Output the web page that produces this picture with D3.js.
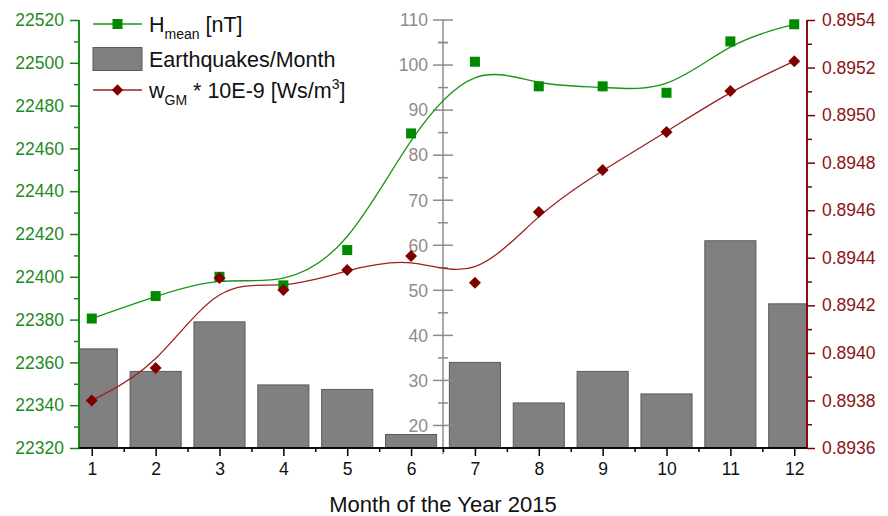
<!DOCTYPE html>
<html><head><meta charset="utf-8">
<script src="https://cdn.jsdelivr.net/npm/d3@7"></script>
<style>
html,body{margin:0;padding:0;background:#fff;}
svg text{font-family:"Liberation Sans",Arial,sans-serif;}
</style></head>
<body>
<svg id="chart" width="888" height="516"></svg>
<script>
const months = [1,2,3,4,5,6,7,8,9,10,11,12];
const quakes = [37,32,43,29,28,18,34,25,32,27,61,47];
const hMean = [22380.5,22391,22400,22396,22412.5,22467,22500.5,22489,22489,22486,22510,22518];
const wGM = [0.89380,0.893936,0.894315,0.894264,0.894349,0.894407,0.894295,0.894592,0.894769,0.894929,0.895101,0.895227];
const leftTicks = d3.range(22320, 22521, 20);
const rightTicks = d3.range(0, 10).map(i => 0.8936 + i*0.0002);
const midTicks = d3.range(20, 111, 10);

const GREEN = "#0f870f", GREEN_TXT = "#1f8a1f", RED = "#800000", RED_TXT = "#8b1414", GRAY = "#8c8c8c";
const L = 79, R = 807, T = 20, B = 448, MIDX = 443;
const FS = "17.5px";

const svg = d3.select("#chart");
const x = d3.scaleLinear().domain([0.8, 12.2]).range([L, R]);
const yL = d3.scaleLinear().domain([22320, 22520]).range([B, T]);
const yR = d3.scaleLinear().domain([0.8936, 0.8954]).range([B, T]);
const yM = d3.scaleLinear().domain([15, 110]).range([B, T]);

svg.append("defs").append("clipPath").attr("id","clip")
  .append("rect").attr("x", L).attr("y", 0).attr("width", R-L).attr("height", B);

// bars
const bw = x(0.8) - x(0);
svg.append("g").attr("clip-path","url(#clip)").selectAll("rect").data(months).join("rect")
  .attr("x", (d) => x(d) - bw/2).attr("width", bw)
  .attr("y", (d,i) => yM(quakes[i])).attr("height", (d,i) => B - yM(quakes[i]))
  .attr("fill", "#808080").attr("stroke", "#5a5a5a").attr("stroke-width", 1);

// middle axis
const gm = svg.append("g").attr("transform", `translate(${MIDX},0)`);
gm.append("line").attr("y1", T).attr("y2", B+6).attr("stroke", GRAY).attr("stroke-width", 1.5);
gm.selectAll(".maj").data(midTicks).join("line")
  .attr("x1", -10).attr("x2", 10).attr("y1", d => yM(d)).attr("y2", d => yM(d))
  .attr("stroke", GRAY).attr("stroke-width", 1.5);
gm.selectAll(".min").data(midTicks.map(d => d - 5).concat([105]).filter(d => d > 15)).join("line")
  .attr("x1", -5).attr("x2", 5).attr("y1", d => yM(d)).attr("y2", d => yM(d))
  .attr("stroke", GRAY).attr("stroke-width", 1.5);
gm.selectAll("text").data(midTicks).join("text")
  .attr("x", -15).attr("y", d => yM(d)).attr("dy", "0.36em").attr("text-anchor", "end")
  .attr("fill", GRAY).style("font-size", FS).text(d => d);

// left axis
const gl = svg.append("g").attr("transform", `translate(${L},0)`)
  .call(d3.axisLeft(yL).tickValues(leftTicks).tickSize(9).tickPadding(6).tickFormat(d3.format("d")));
gl.append("g").call(d3.axisLeft(yL).tickValues(leftTicks.slice(0,-1).map(d => d+10)).tickSize(5).tickFormat(""));
gl.selectAll("path,line").attr("stroke", GREEN).attr("stroke-width", 1.5);
gl.selectAll("path").attr("d", `M0,${T}V${B}`);
gl.selectAll("text").attr("fill", GREEN_TXT).style("font-size", FS).style("font-family", "Liberation Sans, Arial, sans-serif");

// right axis
const gr = svg.append("g").attr("transform", `translate(${R},0)`)
  .call(d3.axisRight(yR).tickValues(rightTicks).tickSize(8).tickPadding(7).tickFormat(d3.format(".4f")));
gr.append("g").call(d3.axisRight(yR).tickValues(rightTicks.slice(0,-1).map(d => d+0.0001)).tickSize(5).tickFormat(""));
gr.selectAll("path,line").attr("stroke", RED).attr("stroke-width", 1.5);
gr.selectAll("path").attr("d", `M0,${T}V${B}`);
gr.selectAll("text").attr("fill", RED_TXT).style("font-size", FS).style("font-family", "Liberation Sans, Arial, sans-serif");

// bottom axis
const gb = svg.append("g").attr("transform", `translate(0,${B})`)
  .call(d3.axisBottom(x).tickValues(months).tickSize(8).tickPadding(7).tickFormat(d3.format("d")));
gb.append("g").call(d3.axisBottom(x).tickValues(d3.range(1.5, 12, 1)).tickSize(4).tickFormat(""));
gb.selectAll("path,line").attr("stroke", "#000").attr("stroke-width", 1.5);
gb.selectAll("path").attr("d", `M${L},0H${R}`);
gb.selectAll("text").attr("fill", "#111").style("font-size", FS).style("font-family", "Liberation Sans, Arial, sans-serif");

svg.append("text").attr("x", (L+R)/2 + 0).attr("y", 512).attr("text-anchor", "middle")
  .style("font-size", "22px").attr("fill", "#111").text("Month of the Year 2015");

// curves
const lineH = d3.line().x((d,i) => x(months[i])).y(d => yL(d)).curve(d3.curveBasis);
const lineW = d3.line().x((d,i) => x(months[i])).y(d => yR(d)).curve(d3.curveBasis);
svg.append("path").attr("d", lineH(hMean)).attr("fill", "none").attr("stroke", "#1a961a").attr("stroke-width", 1.3);
svg.append("path").attr("d", lineW(wGM)).attr("fill", "none").attr("stroke", "#9b2020").attr("stroke-width", 1.3);

// markers
const sq = 10;
svg.append("g").selectAll("rect").data(hMean).join("rect")
  .attr("x", (d,i) => x(months[i]) - sq/2).attr("y", d => yL(d) - sq/2)
  .attr("width", sq).attr("height", sq).attr("fill", "#008a00");
svg.append("g").selectAll("path").data(wGM).join("path")
  .attr("transform", (d,i) => `translate(${x(months[i])},${yR(d)}) rotate(45)`)
  .attr("d", d3.symbol().type(d3.symbolSquare).size(72)).attr("fill", "#800000");

// legend
const lg = svg.append("g");
const lx1 = 93, lx2 = 142, lmx = 117.5, tx = 149;
const LFS = "21.5px";
lg.append("line").attr("x1", lx1).attr("x2", lx2).attr("y1", 24).attr("y2", 24).attr("stroke", "#1a961a").attr("stroke-width", 1.3);
lg.append("rect").attr("x", lmx - 5).attr("y", 19).attr("width", 10).attr("height", 10).attr("fill", "#008a00");
lg.append("rect").attr("x", lx1).attr("y", 47.5).attr("width", lx2 - lx1).attr("height", 23).attr("fill", "#808080").attr("stroke", "#5a5a5a");
lg.append("line").attr("x1", lx1).attr("x2", lx2).attr("y1", 90).attr("y2", 90).attr("stroke", "#9b2020").attr("stroke-width", 1.3);
lg.append("path").attr("transform", `translate(${lmx},90) rotate(45)`).attr("d", d3.symbol().type(d3.symbolSquare).size(64)).attr("fill", "#800000");

const t1 = lg.append("text").attr("x", tx).attr("y", 32).style("font-size", LFS).attr("fill", "#111");
t1.append("tspan").text("H");
t1.append("tspan").attr("dy", 7).style("font-size", "14px").text("mean");
t1.append("tspan").attr("dy", -7).text(" [nT]");
lg.append("text").attr("x", tx).attr("y", 67).style("font-size", LFS).attr("fill", "#111").text("Earthquakes/Month");
const t3 = lg.append("text").attr("x", tx).attr("y", 98).style("font-size", LFS).attr("fill", "#111");
t3.append("tspan").text("w");
t3.append("tspan").attr("dy", 7).style("font-size", "14px").text("GM");
t3.append("tspan").attr("dy", -7).text(" * 10E-9 [Ws/m");
t3.append("tspan").attr("dy", -9).style("font-size", "14px").text("3");
t3.append("tspan").attr("dy", 9).text("]");
</script>
</body></html>
